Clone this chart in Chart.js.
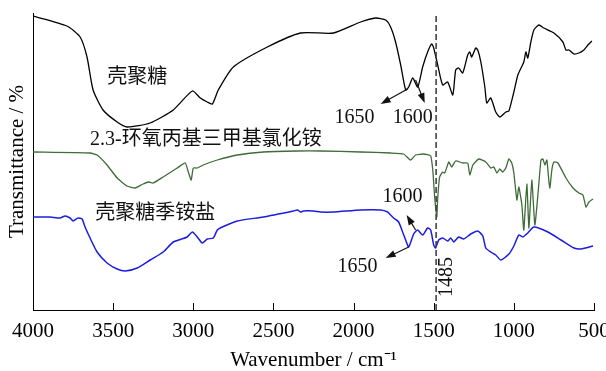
<!DOCTYPE html>
<html>
<head>
<meta charset="utf-8">
<script src="https://cdn.jsdelivr.net/npm/chart.js@4.4.1/dist/chart.umd.min.js"></script>
<style>
  html, body { margin: 0; padding: 0; background: #fff; }
  canvas { display: block; }
</style>
</head>
<body>
<canvas id="Chart-ftir" width="606" height="371"></canvas>
<script>
// wavenumber (cm-1) / transmittance (offset curves, arbitrary units)
var wnChitosan = [4000,3788,3706,3663,3625,3563,3475,3413,3269,3125,3006,2956,2913,2881,2844,2750,2538,2331,2125,1956,1863,1800,1769,1738,1706,1675,1656,1631,1600,1569,1538,1513,1500,1475,1444,1413,1381,1363,1344,1319,1288,1275,1263,1238,1225,1206,1181,1169,1144,1113,1088,1050,1031,1000,975,938,925,913,894,875,844,813,750,694,675,656,625,594,563,538,513];
var tChitosan = [294,284,273,253,220,200,188,183,187,200,219,212,208,206,220,243,263,277,277,288,292,290,283,268,245,220,223,232,223,243,258,266,262,245,225,228,215,240,242,237,255,258,253,262,260,248,223,207,212,198,193,198,199,218,235,248,258,252,268,280,285,282,277,268,260,260,256,257,260,265,269];

var wnGtmac = [4000,3644,3600,3538,3475,3413,3363,3313,3281,3250,3188,3100,3050,3031,3013,3000,2975,2938,2850,2725,2563,2350,2206,1956,1769,1688,1644,1613,1563,1519,1506,1494,1481,1475,1463,1444,1431,1406,1388,1363,1319,1288,1275,1256,1219,1175,1144,1125,1106,1088,1069,1050,1031,1013,1000,981,969,950,938,919,906,888,869,850,831,819,806,794,781,775,763,750,725,675,631,594,569,550,531,506];
var tGtmac = [158,157,155,145,132,124,122,126,128,127,133,142,147,138,130,142,142,145,150,155,158,159,159,158,157,156,150,155,156,154,140,113,93,112,133,138,137,148,143,149,147,147,135,145,151,148,142,143,137,141,138,142,151,147,137,110,123,105,80,126,82,130,85,115,150,151,145,150,128,122,140,148,147,132,122,117,115,103,108,111];

var wnQcs = [4000,3894,3831,3800,3769,3750,3719,3694,3675,3644,3600,3538,3475,3425,3350,3269,3188,3125,3038,3006,2975,2944,2913,2875,2850,2819,2725,2563,2375,2350,2331,2313,2250,2206,2125,1956,1831,1788,1769,1750,1719,1694,1675,1656,1625,1600,1569,1538,1519,1500,1488,1469,1444,1413,1394,1375,1344,1313,1269,1225,1194,1175,1144,1113,1081,1031,1000,969,944,913,875,788,706,625,581,506];
var tQcs = [93,93,92,94,92,89,92,91,83,72,58,47,41,39,42,50,58,68,73,78,73,67,71,72,80,83,89,93,99,100,98,99,99,98,98,100,100,98,95,92,88,78,70,63,76,80,75,82,80,65,62,70,72,69,72,68,73,71,76,79,74,62,58,55,50,56,64,75,73,77,83,78,70,62,61,64];

var xTicks = [4000, 3500, 3000, 2500, 2000, 1500, 1000, 500];
var markerWn = 1485;

// text notes: [text, wavenumber, transmittance, align, rotated]
var notes = [
  ['壳聚糖', 3350, 232, 'center', false],
  ['2.3-环氧丙基三甲基氯化铵', 3644, 170, 'left', false],
  ['壳聚糖季铵盐', 3238, 96, 'center', false],
  ['1650', 1994, 192, 'center', false],
  ['1600', 1631, 192, 'center', false],
  ['1600', 1694, 113, 'center', false],
  ['1650', 1975, 43, 'center', false],
  ['1485', 1419, 33, 'center', true]
];
// arrows: from (wn, t) to (wn, t), head at the end
var arrows = [
  [1663, 221, 1831, 206],
  [1613, 230, 1556, 207],
  [1613, 80, 1669, 95],
  [1656, 63, 1800, 52]
];

function pts(xs, ys) {
  return xs.map(function(x, i) { return {x: x, y: ys[i]}; });
}

var serif = '"Liberation Serif", "Times New Roman", "Noto Sans CJK SC", serif';
Chart.defaults.font.family = serif;
Chart.defaults.color = '#000';

var ftirNotes = {
  id: 'ftirNotes',
  afterDraw: function(chart) {
    var ctx = chart.ctx, xs = chart.scales.x, ys = chart.scales.y;
    var bottom = chart.chartArea.bottom;
    ctx.save();
    // inner tick marks
    ctx.strokeStyle = '#000';
    ctx.lineWidth = 1;
    xTicks.forEach(function(v) {
      var px = Math.round(xs.getPixelForValue(v)) + 0.5;
      ctx.beginPath();
      ctx.moveTo(px, bottom);
      ctx.lineTo(px, bottom - 7);
      ctx.stroke();
    });
    // notes
    ctx.fillStyle = '#111';
    ctx.font = '20px ' + serif;
    ctx.textBaseline = 'middle';
    notes.forEach(function(n) {
      var px = xs.getPixelForValue(n[1]), py = ys.getPixelForValue(n[2]);
      ctx.save();
      ctx.translate(px, py);
      if (n[4]) ctx.rotate(-Math.PI / 2);
      ctx.textAlign = n[3];
      ctx.fillText(n[0], 0, 0);
      ctx.restore();
    });
    // arrows
    ctx.strokeStyle = '#111';
    ctx.lineWidth = 1.2;
    arrows.forEach(function(a) {
      var x1 = xs.getPixelForValue(a[0]), y1 = ys.getPixelForValue(a[1]);
      var x2 = xs.getPixelForValue(a[2]), y2 = ys.getPixelForValue(a[3]);
      var ang = Math.atan2(y2 - y1, x2 - x1);
      ctx.beginPath();
      ctx.moveTo(x1, y1);
      ctx.lineTo(x2 - 6 * Math.cos(ang), y2 - 6 * Math.sin(ang));
      ctx.stroke();
      ctx.beginPath();
      ctx.moveTo(x2, y2);
      ctx.lineTo(x2 - 10 * Math.cos(ang) + 3.5 * Math.sin(ang), y2 - 10 * Math.sin(ang) - 3.5 * Math.cos(ang));
      ctx.lineTo(x2 - 10 * Math.cos(ang) - 3.5 * Math.sin(ang), y2 - 10 * Math.sin(ang) + 3.5 * Math.cos(ang));
      ctx.closePath();
      ctx.fill();
    });
    ctx.restore();
  }
};

var ctx = document.getElementById('Chart-ftir').getContext('2d');
new Chart(ctx, {
  type: 'scatter',
  data: {
    datasets: [
      {
        data: pts([markerWn, markerWn], [0, 297]),
        borderColor: '#444',
        borderWidth: 1.6,
        borderDash: [6, 3],
        showLine: true,
        pointRadius: 0
      },
      {
        data: pts(wnChitosan, tChitosan),
        borderColor: '#000000',
        borderWidth: 1.3,
        showLine: true,
        pointRadius: 0,
        tension: 0.2
      },
      {
        data: pts(wnGtmac, tGtmac),
        borderColor: '#3f6b38',
        borderWidth: 1.3,
        showLine: true,
        pointRadius: 0,
        tension: 0.15
      },
      {
        data: pts(wnQcs, tQcs),
        borderColor: '#1c1ce0',
        borderWidth: 1.5,
        showLine: true,
        pointRadius: 0,
        tension: 0.2
      }
    ]
  },
  options: {
    responsive: false,
    animation: false,
    devicePixelRatio: 1,
    layout: { padding: { top: 13, right: 12, left: 0, bottom: 0 } },
    plugins: {
      legend: { display: false },
      tooltip: { enabled: false }
    },
    scales: {
      x: {
        type: 'linear',
        reverse: true,
        min: 500,
        max: 4000,
        afterFit: function(s) {
          s.height = 61;
          s.paddingLeft = 0;
          s.paddingRight = 0;
        },
        ticks: {
          stepSize: 500,
          padding: 9,
          maxRotation: 0,
          font: { size: 21 },
          callback: function(v) { return String(v); }
        },
        grid: { drawOnChartArea: false, drawTicks: false },
        border: { display: true, color: '#000', width: 1 },
        title: {
          display: true,
          text: 'Wavenumber / cm⁻¹',
          font: { size: 21 },
          padding: { top: 0, bottom: -2 }
        }
      },
      y: {
        min: 0,
        max: 297,
        afterFit: function(s) { s.width = 33; },
        ticks: { display: false },
        grid: { drawOnChartArea: false, drawTicks: false },
        border: { display: true, color: '#000', width: 1 },
        title: {
          display: true,
          text: 'Transmittance / %',
          font: { size: 21 },
          padding: { top: 5, bottom: 0 }
        }
      }
    }
  },
  plugins: [ftirNotes]
});
</script>
</body>
</html>
